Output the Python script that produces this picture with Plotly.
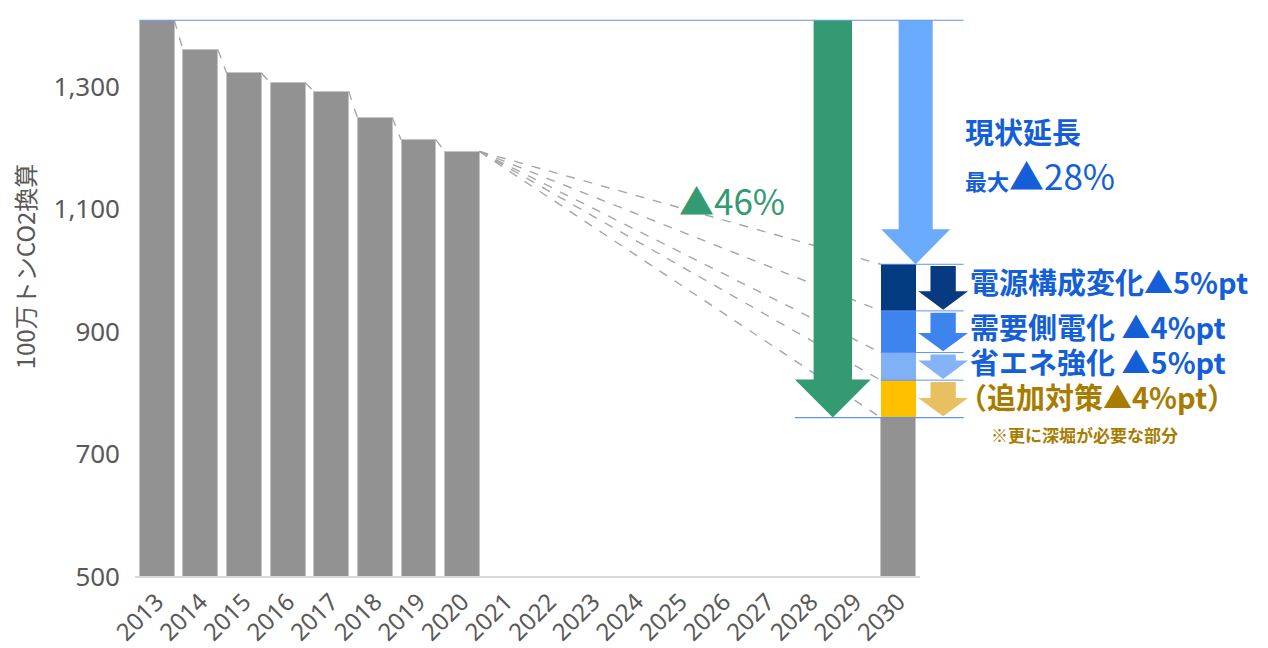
import plotly.graph_objects as go

# ---------------- data ----------------
hist_years = [2013, 2014, 2015, 2016, 2017, 2018, 2019, 2020]
hist_values = [1408, 1360, 1322, 1306, 1292, 1249, 1213, 1194]   # 100万トンCO2換算
all_years = list(range(2013, 2031))
target_year = 2030
target_2030 = 760                                              # ▲46%
# reduction layers stacked on the 2030 target (bottom -> top)
layer_names = ["追加対策", "省エネ強化", "需要側電化", "電源構成変化"]
layer_values = [61, 45, 68, 76]
layer_texts = ["（追加対策▲4%pt）", "省エネ強化 ▲5%pt", "需要側電化 ▲4%pt", "電源構成変化▲5%pt"]
y_ticks = [500, 700, 900, 1100, 1300]

# ---------------- styles ----------------
GRAY = "#929292"
layer_colors = ["#ffc000", "#80b1f6", "#3e84ef", "#023b80"]
arrow_colors = ["#e8c060", "#84b4f5", "#3e84ef", "#073a80"]
text_colors = ["#a77c00", "#145fd7", "#145fd7", "#145fd7"]
label_offsets = [5, 8, 10, 11]          # label centre relative to layer middle (data units)
label_x = [0.985, 1.0, 1.0, 1.0]
GREEN = "#339a72"
BIGBLUE = "#6aabfd"
LINEBLUE = "#5f93e8"
TXT = "#595959"
JP = "Noto Sans CJK JP"

gray_y = [hist_values[hist_years.index(y)] if y in hist_years else (target_2030 if y == target_year else None)
          for y in all_years]

fig = go.Figure()
fig.add_trace(go.Bar(x=all_years, y=gray_y, marker=dict(color=GRAY, line=dict(color="#c4c4c4", width=1)),
                     name="排出量"))
for name, val, col in zip(layer_names, layer_values, layer_colors):
    fig.add_trace(go.Bar(x=[target_year], y=[val], marker=dict(color=col, line=dict(width=0)), name=name))

# cumulative levels of the 2030 stack
levels = [target_2030]
for v in layer_values:
    levels.append(levels[-1] + v)
bau_2030 = levels[-1]

half = 0.4
shapes = []
# dashed connectors between historical bars
for i in range(len(hist_years) - 1):
    shapes.append(dict(type="line", xref="x", yref="y",
                       x0=hist_years[i] + half, y0=hist_values[i],
                       x1=hist_years[i + 1] - half, y1=hist_values[i + 1],
                       line=dict(color="#a6a6a6", width=1.4, dash="dash")))
# fan from 2020 to the 2030 levels
for lv in levels:
    shapes.append(dict(type="line", xref="x", yref="y",
                       x0=hist_years[-1] + half, y0=hist_values[-1],
                       x1=target_year - half, y1=lv,
                       line=dict(color="#a6a6a6", width=1.4, dash="dash")))


def arrow(cx, top, tip, shaft_hw, head_hw, head_len, color):
    hy = tip + head_len
    p = (f"M {cx - shaft_hw},{top} L {cx + shaft_hw},{top} L {cx + shaft_hw},{hy} "
         f"L {cx + head_hw},{hy} L {cx},{tip} L {cx - head_hw},{hy} L {cx - shaft_hw},{hy} Z")
    return dict(type="path", xref="x", yref="y", path=p, fillcolor=color, line=dict(width=0), layer="above")


base = hist_values[0]
green_cx = 2028.5
shapes.append(arrow(green_cx, base, target_2030, 0.44, 0.87, 62, GREEN))
blue_cx = 2030.4
shapes.append(arrow(blue_cx, base, bau_2030, 0.39, 0.79, 57, BIGBLUE))

right_x = 2031.5
# thin blue reference lines
shapes.append(dict(type="line", xref="x", yref="y", x0=hist_years[0] - half, x1=right_x,
                   y0=base, y1=base, line=dict(color=LINEBLUE, width=1.2)))
for lv in levels[1:]:
    shapes.append(dict(type="line", xref="x", yref="y", x0=target_year - half, x1=right_x,
                       y0=lv, y1=lv, line=dict(color=LINEBLUE, width=1)))
shapes.append(dict(type="line", xref="x", yref="y", x0=green_cx - 0.87, x1=right_x,
                   y0=target_2030, y1=target_2030, line=dict(color=LINEBLUE, width=1.2)))

# small arrows for each layer
small_cx = 2031.03
for i, col in enumerate(arrow_colors):
    lo, hi = levels[i], levels[i + 1]
    shapes.append(arrow(small_cx, hi - 3, lo + 2, 0.29, 0.57, 30, col))

# x axis baseline
shapes.append(dict(type="line", xref="x", yref="paper", x0=2012.5, x1=2030.5, y0=0, y1=0,
                   line=dict(color="#d9d9d9", width=2)))

annotations = []
annotations.append(dict(xref="x", yref="y", x=2026.18, y=1116, text="▲46%", showarrow=False,
                        font=dict(family=JP, size=35, color=GREEN), xanchor="center", yanchor="middle"))
annotations.append(dict(xref="paper", yref="y", x=0.994, y=1228, text="<b>現状延長</b>", showarrow=False,
                        font=dict(family=JP, size=29, color="#145fd7"), xanchor="left", yanchor="middle"))
annotations.append(dict(xref="paper", yref="y", x=0.994, y=1157,
                        text="<b>最大</b><span style='font-size:35px'>▲28%</span>", showarrow=False,
                        font=dict(family=JP, size=22, color="#145fd7"), xanchor="left", yanchor="middle"))
for i, (t, c) in enumerate(zip(layer_texts, text_colors)):
    mid = (levels[i] + levels[i + 1]) / 2 + label_offsets[i]
    annotations.append(dict(xref="paper", yref="y", x=label_x[i], y=mid, text=f"<b>{t}</b>",
                            showarrow=False, font=dict(family=JP, size=29, color=c),
                            xanchor="left", yanchor="middle"))
annotations.append(dict(xref="paper", yref="y", x=1.025, y=733, text="<b>※更に深堀が必要な部分</b>",
                        showarrow=False, font=dict(family=JP, size=17, color="#a77c00"),
                        xanchor="left", yanchor="middle"))
annotations.append(dict(xref="paper", yref="y", x=-0.133, y=1007, text="100万トンCO2換算", textangle=-90,
                        showarrow=False, font=dict(family=JP, size=24, color=TXT),
                        xanchor="center", yanchor="middle"))

fig.update_layout(
    width=1268, height=648,
    margin=dict(l=135, r=300, t=19, b=71),
    paper_bgcolor="white", plot_bgcolor="white",
    barmode="stack", bargap=0.2, showlegend=False,
    shapes=shapes, annotations=annotations,
    xaxis=dict(range=[2012.5, 2031.6], tickmode="array", tickvals=all_years,
               ticktext=[str(y) for y in all_years], tickangle=-45, automargin=False,
               showgrid=False, zeroline=False, showline=False, ticklabelstandoff=5,
               tickfont=dict(family="Noto Sans", size=24, color=TXT)),
    yaxis=dict(range=[500, 1410], tickmode="array", tickvals=y_ticks, tickformat=",",
               showgrid=False, zeroline=False, showline=False, ticklabelstandoff=14, automargin=False,
               tickfont=dict(family="Noto Sans", size=26, color=TXT)),
)

fig.write_html("out.html")
